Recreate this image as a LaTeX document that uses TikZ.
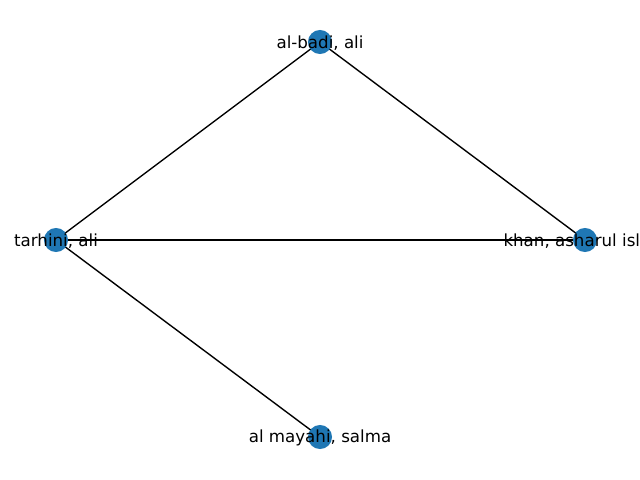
\documentclass[tikz,border=0pt]{standalone}
\usepackage{fontspec}
\setmainfont{DejaVu Sans}
\definecolor{nodeblue}{HTML}{1F77B4}
\tikzset{
  vert/.style={circle,fill=nodeblue,inner sep=0pt,minimum size=17.3pt},
  lbl/.style={inner sep=0pt,font=\fontsize{12}{14}\selectfont},
}
\begin{document}
\begin{tikzpicture}[x=0.72pt,y=-0.72pt]
      \useasboundingbox (0,0) rectangle (640,480);
      \clip (0,0) rectangle (640,480);
      \coordinate (B) at (320,42);
      \coordinate (T) at (56,240);
      \coordinate (K) at (585,240);
      \coordinate (M) at (320,437);

      \draw[line width=1pt] (B) -- (T);
      \draw[line width=1pt] (B) -- (K);
      \draw[line width=1pt] (T) -- (K);
      \draw[line width=1pt] (T) -- (M);

      \node[vert] (b) at (B){};
      \node[vert] (t) at (T){};
      \node[vert] (k) at (K){};
      \node[vert] (m) at (M){};

      \node[lbl] at ([yshift=-1]b){al-badi, ali};
      \node[lbl] at ([yshift=-1]t){tarhini, ali};
      \node[lbl] at ([yshift=-1]k){khan, asharul islam};
      \node[lbl] at ([yshift=-1]m){al mayahi, salma};
    \end{tikzpicture}
\end{document}
